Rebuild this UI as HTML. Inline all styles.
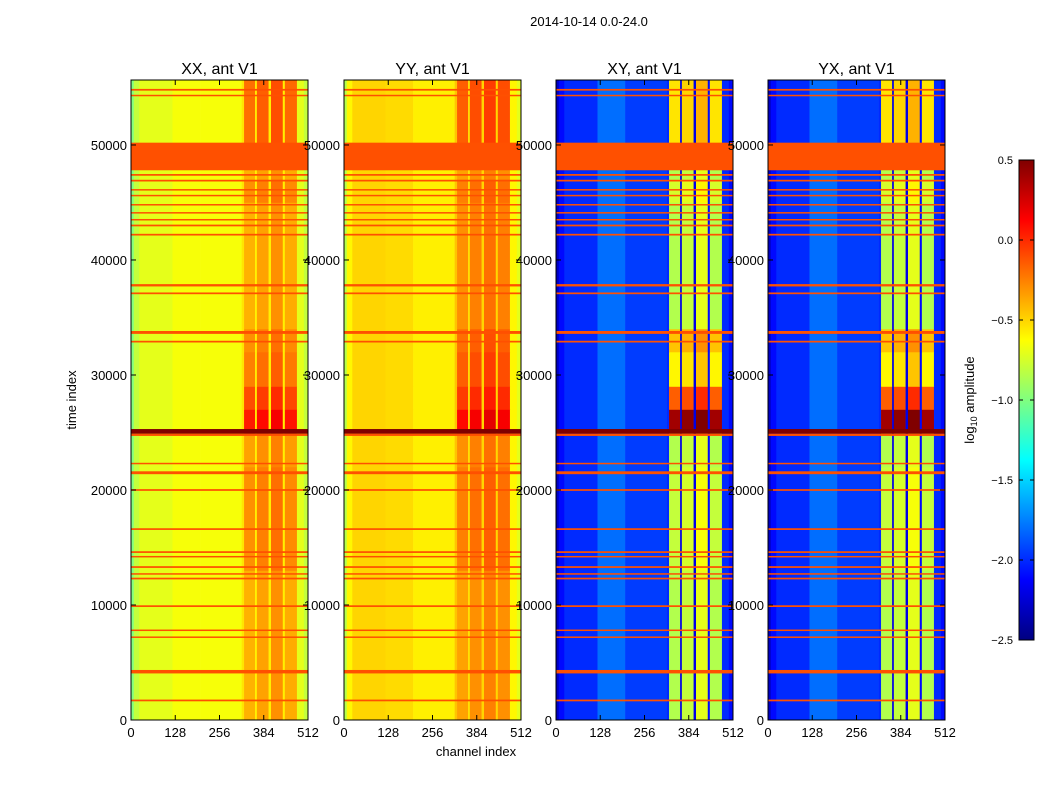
<!DOCTYPE html>
<html><head><meta charset="utf-8"><style>
body{margin:0;background:#fff;}
svg{display:block;font-family:"Liberation Sans",sans-serif;}
</style></head><body>
<svg id="fig" width="1050" height="800" viewBox="0 0 1050 800" xmlns="http://www.w3.org/2000/svg">
<rect width="1050" height="800" fill="#fff"/>
<text x="589" y="26" font-size="13" text-anchor="middle">2014-10-14 0.0-24.0</text>
<text x="76" y="400" font-size="13" text-anchor="middle" transform="rotate(-90 76 400)">time index</text>
<text x="476" y="756" font-size="13" text-anchor="middle">channel index</text>
<text x="974" y="400" font-size="13" text-anchor="middle" transform="rotate(-90 974 400)">log<tspan font-size="9" dy="3">10</tspan><tspan dy="-3"> amplitude</tspan></text>
<g id="panels"></g>
<g id="cbar"></g>
</svg>
<script>
// ---- data ----
const panelTitles = ["XX, ant V1","YY, ant V1","XY, ant V1","YX, ant V1"];
const chanStarts = [0,8,24,120,200,320,327,359,364,398,405,439,445,480,500];
const xxChanVals = [-1.0,-0.8,-0.7,-0.65,-0.65,-0.55,-0.4,-0.6,-0.35,-0.58,-0.3,-0.58,-0.38,-0.7,-0.8];
const yyChanVals = [-0.85,-0.6,-0.5,-0.52,-0.58,-0.45,-0.35,-0.55,-0.3,-0.5,-0.25,-0.5,-0.3,-0.6,-0.7];
const xyChanVals = [-2.3,-2.1,-2.0,-1.8,-1.95,-2.0,-0.85,-2.2,-0.8,-2.2,-0.7,-2.1,-0.85,-2.0,-2.1];
const yxChanVals = [-2.3,-2.1,-2.0,-1.8,-1.95,-2.0,-0.85,-2.2,-0.8,-2.2,-0.7,-2.1,-0.85,-2.0,-2.1];
const timeStarts = [0,13000,22000,25000,27000,29000,32000,34000,45000,47000,50000];
const xxTimeBoost = [0,0.1,0.05,0.45,0.3,0.15,0.1,0,0.1,0,0.2];
const yyTimeBoost = [0,0.1,0.05,0.45,0.3,0.2,0.15,0.05,0.1,0,0.2];
const xyTimeBoost = [0,0.05,0,1.25,0.7,0.25,0.4,0,0.1,0,0.3];
const yxTimeBoost = [0,0.05,0,1.25,0.7,0.25,0.4,0,0.1,0,0.3];
const flagTimes = [1700,4200,7200,7800,9900,12300,12700,13300,14200,14600,16600,20000,21500,22300,24800,25100,32900,33700,37100,37800,42200,43000,43500,44100,44800,45600,46100,46900,47400,49000,54300,54800];
const flagWidths = [150,300,120,120,150,150,120,150,120,150,150,150,250,120,200,400,150,250,150,200,150,150,120,120,120,120,120,150,150,2400,120,150];
const flagVals = [-0.1,-0.1,-0.1,-0.1,-0.1,-0.1,-0.1,-0.1,-0.1,-0.1,-0.1,-0.1,-0.1,-0.1,-0.1,0.5,-0.1,-0.1,-0.1,-0.1,-0.1,-0.1,-0.1,-0.1,-0.1,-0.1,-0.1,-0.1,-0.1,-0.1,-0.1,-0.1];
const xTicks = [0,128,256,384,512];
const yTicks = [0,10000,20000,30000,40000,50000];
const cbarTicks = [-2.5,-2.0,-1.5,-1.0,-0.5,0.0,0.5];
// ---- layout ----
const panelLefts = [131,344,556,768];
const PW = 177, PT = 80, PB = 720;
const TMAX = 55650, CMAX = 512, VMIN = -2.5, VMAX = 0.5;
const NS = "http://www.w3.org/2000/svg";
function jet(v){
  let x = Math.max(0, Math.min(1, (v - VMIN) / (VMAX - VMIN)));
  const c = t => Math.round(255 * Math.max(0, Math.min(1, 1.5 - Math.abs(4 * x - t))));
  return `rgb(${c(3)},${c(2)},${c(1)})`;
}
function mk(tag, attrs, parent){
  const e = document.createElementNS(NS, tag);
  for (const k in attrs) e.setAttribute(k, attrs[k]);
  parent.appendChild(e); return e;
}
const yScale = t => PB - (t / TMAX) * (PB - PT);
const fmt = v => (v < 0 ? "\u2212" : "") + Math.abs(v).toFixed(1);
const chanSets = [xxChanVals, yyChanVals, xyChanVals, yxChanVals];
const boostSets = [xxTimeBoost, yyTimeBoost, xyTimeBoost, yxTimeBoost];
const root = document.getElementById("panels");
panelTitles.forEach((title, p) => {
  const L = panelLefts[p];
  const xScale = c => L + (c / CMAX) * PW;
  const g = mk("g", {}, root);
  
  
  const cv = chanSets[p], tb = boostSets[p];
  const gapIdx = [7, 9, 11];
  for (let ti = 0; ti < timeStarts.length; ti++) {
    const t0 = timeStarts[ti], t1 = ti + 1 < timeStarts.length ? timeStarts[ti+1] : TMAX;
    for (let ci = 0; ci < chanStarts.length; ci++) {
      const c0 = chanStarts[ci], c1 = ci + 1 < chanStarts.length ? chanStarts[ci+1] : CMAX;
      const hi = c0 >= 327 && c0 < 480 && gapIdx.indexOf(ci) < 0;
      const v = cv[ci] + (hi ? tb[ti] : 0);
      const r = mk("rect", {x: xScale(c0), y: yScale(t1), width: xScale(c1) - xScale(c0) + 0.3, height: yScale(t0) - yScale(t1) + 0.3, fill: jet(v)}, g);
      
      
    }
  }
  flagTimes.forEach((t, i) => {
    const h = Math.max(1.5, flagWidths[i] / TMAX * (PB - PT));
    const col = flagVals[i] > 0.3 ? "#800000" : "#ff5000";
    const r = mk("rect", {x: L, y: yScale(t) - h / 2, width: PW, height: h, fill: col}, g);
    
    
  });
  const fr = mk("rect", {x: L, y: PT, width: PW, height: PB - PT, fill: "none", stroke: "#000", "stroke-width": 1}, g);
  
  
  const tt = mk("text", {x: L + PW / 2, y: 74, "font-size": 16, "text-anchor": "middle"}, g);
  tt.textContent = title;
  
  
  xTicks.forEach(c => {
    const x = xScale(c);
    mk("line", {x1: x, x2: x, y1: PB, y2: PB - 5, stroke: "#000"}, g);
    mk("line", {x1: x, x2: x, y1: PT, y2: PT + 5, stroke: "#000"}, g);
    const t = mk("text", {x: x, y: PB + 17, "font-size": 13, "text-anchor": "middle"}, g);
    t.textContent = c;
    
    
  });
  yTicks.forEach(v => {
    const y = yScale(v);
    mk("line", {x1: L, x2: L + 5, y1: y, y2: y, stroke: "#000"}, g);
    mk("line", {x1: L + PW, x2: L + PW - 5, y1: y, y2: y, stroke: "#000"}, g);
    const t = mk("text", {x: L - 4, y: y + 5, "font-size": 13, "text-anchor": "end"}, g);
    t.textContent = v;
    
    
  });
});
// colorbar
const cb = document.getElementById("cbar");


const CX = 1019, CW = 15, CT = 160, CB = 640;
const defs = mk("defs", {}, cb);
const grad = mk("linearGradient", {id: "jetg", x1: 0, y1: 1, x2: 0, y2: 0}, defs);
for (let i = 0; i <= 24; i++) mk("stop", {offset: i / 24, "stop-color": jet(VMIN + (VMAX - VMIN) * i / 24)}, grad);
mk("rect", {x: CX, y: CT, width: CW, height: CB - CT, fill: "url(#jetg)", stroke: "#000"}, cb);
cbarTicks.forEach(v => {
  const y = CB - (v - VMIN) / (VMAX - VMIN) * (CB - CT);
  mk("line", {x1: CX, x2: CX + 4, y1: y, y2: y, stroke: "#000"}, cb);
  mk("line", {x1: CX + CW, x2: CX + CW - 4, y1: y, y2: y, stroke: "#000"}, cb);
  const t = mk("text", {x: 1013, y: y + 4, "font-size": 11, "text-anchor": "end"}, cb);
  t.textContent = fmt(v);
  
  
});
</script>
</body></html>
